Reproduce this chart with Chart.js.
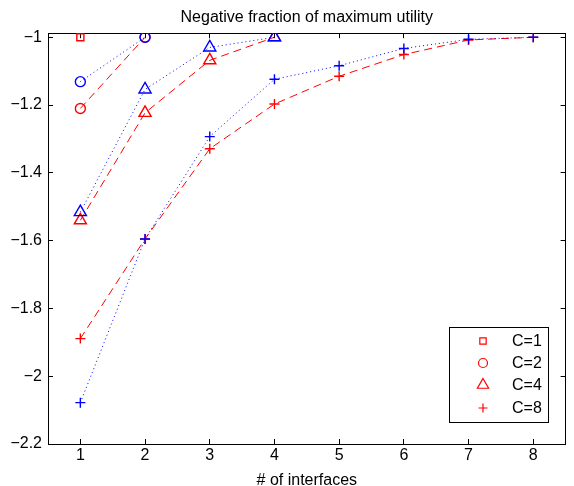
<!DOCTYPE html>
<html lang="en">
<head>
<meta charset="UTF-8">
<title>Negative fraction of maximum utility</title>
<style>
    html, body { margin: 0; padding: 0; background: #fff; }
    #wrap { width: 574px; height: 486px; }
</style>
</head>
<body>
<div id="wrap"><canvas id="chart" width="574" height="486"></canvas></div>
<script src="https://cdn.jsdelivr.net/npm/chart.js"></script>
<script>
    // values
    const xTicks = [1, 2, 3, 4, 5, 6, 7, 8];
    const yTicks = [-2.2, -2.0, -1.8, -1.6, -1.4, -1.2, -1.0];
    const legendLabels = ['C=1', 'C=2', 'C=4', 'C=8'];
    const markers = ['rect', 'circle', 'triangle', 'cross'];

    // red dashed series (one per C)
    const redC1 = [-1.0];
    const redC2 = [-1.21, -1.0];
    const redC4 = [-1.54, -1.223, -1.068, -1.0];
    const redC8 = [-1.889, -1.595, -1.329, -1.197, -1.115, -1.051, -1.008, -1.0];

    // blue dotted series
    const blueC2 = [-1.131, -1.0];
    const blueC4 = [-1.516, -1.154, -1.03, -1.0];
    const blueC8 = [-2.078, -1.595, -1.293, -1.124, -1.084, -1.033, -1.006, -1.0];

    const RED = '#ff0000';
    const BLUE = '#0000ff';
    const FONT = '"Liberation Sans", Arial, Helvetica, sans-serif';
    const radius = { rect: 5, circle: 5, triangle: 7, cross: 5 };
    const X_MIN = 0.5, X_MAX = 8.5, Y_MIN = -2.2, Y_MAX = -0.988;

    function toPoints(vals) {
        return vals.map((v, i) => ({ x: xTicks[i], y: v }));
    }

    function series(vals, color, marker, dash, order) {
        return {
            data: toPoints(vals),
            borderColor: color,
            borderWidth: 1,
            borderDash: dash,
            pointStyle: marker,
            pointRadius: radius[marker],
            pointBorderColor: color,
            pointBackgroundColor: 'rgba(0,0,0,0)',
            pointBorderWidth: 1.4,
            showLine: true,
            fill: false,
            tension: 0,
            order: order
        };
    }

    const redDash = [8, 5];
    const blueDot = [1, 3];

    const datasets = [
        series(redC1, RED, 'rect', redDash, 2),
        series(redC2, RED, 'circle', redDash, 2),
        series(redC4, RED, 'triangle', redDash, 2),
        series(redC8, RED, 'cross', redDash, 2),
        series(blueC2, BLUE, 'circle', blueDot, 1),
        series(blueC4, BLUE, 'triangle', blueDot, 1),
        series(blueC8, BLUE, 'cross', blueDot, 1)
    ];

    // matlab-like axis: black box line, short inward ticks
    function boxAxis(pos, min, max, tickVals, showLabels) {
        return {
            type: 'linear',
            position: pos,
            min: min,
            max: max,
            grid: {
                display: true,
                drawOnChartArea: false,
                drawTicks: true,
                tickLength: -5,
                color: '#000',
                lineWidth: 1
            },
            border: { display: true, color: '#000', width: 1 },
            afterBuildTicks: s => { s.ticks = tickVals.map(v => ({ value: v })); },
            ticks: { display: showLabels }
        };
    }

    const xAxis = boxAxis('bottom', X_MIN, X_MAX, xTicks, true);
    xAxis.afterFit = s => { s.height = 42; };
    xAxis.ticks = {
        color: '#000',
        padding: 7,
        font: { family: FONT, size: 16 },
        callback: v => String(v)
    };
    xAxis.title = {
        display: true,
        text: '# of interfaces',
        color: '#000',
        font: { family: FONT, size: 16, lineHeight: 1 },
        padding: { top: 0, bottom: -3 }
    };

    const yAxis = boxAxis('left', Y_MIN, Y_MAX, yTicks, true);
    yAxis.afterFit = s => { s.width = 48; };
    yAxis.ticks = {
        color: '#000',
        padding: 11,
        font: { family: FONT, size: 16 },
        callback: v => {
            const t = Math.abs(v).toFixed(1).replace(/\.0$/, '');
            return (v < 0 ? '\u2212' : '') + t;
        }
    };

    const xTop = boxAxis('top', X_MIN, X_MAX, xTicks, false);
    xTop.afterFit = s => { s.height = 0; };
    const yRight = boxAxis('right', Y_MIN, Y_MAX, yTicks, false);
    yRight.afterFit = s => { s.width = 0; };

    // legend box in the lower right of the axes
    const legendBox = {
        id: 'legendBox',
        afterDraw(chart) {
            const ctx = chart.ctx;
            const lx = 449, ly = 327, lw = 99, lh = 95;
            ctx.save();
            ctx.setLineDash([]);
            ctx.fillStyle = '#fff';
            ctx.fillRect(lx, ly, lw, lh);
            ctx.strokeStyle = '#000';
            ctx.lineWidth = 1;
            ctx.strokeRect(lx + 0.5, ly + 0.5, lw, lh);
            const rows = [341, 363, 385, 408];
            ctx.font = '16px ' + FONT;
            ctx.textBaseline = 'middle';
            legendLabels.forEach((lab, i) => {
                ctx.strokeStyle = RED;
                ctx.fillStyle = 'rgba(0,0,0,0)';
                ctx.lineWidth = 1.2;
                Chart.helpers.drawPoint(ctx, {
                    pointStyle: markers[i],
                    radius: radius[markers[i]] - 0.5,
                    borderWidth: 1.2
                }, 483, rows[i]);
                ctx.fillStyle = '#000';
                ctx.fillText(lab, 512, rows[i] + 1);
            });
            ctx.restore();
        }
    };

    new Chart(document.getElementById('chart'), {
        type: 'scatter',
        data: { datasets: datasets },
        plugins: [legendBox],
        options: {
            responsive: false,
            animation: false,
            events: [],
            layout: { padding: { left: 0, right: 6, top: 0, bottom: 0 } },
            plugins: {
                legend: { display: false },
                tooltip: { enabled: false },
                title: {
                    display: true,
                    fullSize: false,
                    text: 'Negative fraction of maximum utility',
                    color: '#000',
                    font: { family: FONT, size: 16, weight: 'normal' },
                    padding: { top: 8, bottom: 6 }
                }
            },
            scales: {
                x: xAxis,
                y: yAxis,
                x2: xTop,
                y2: yRight
            }
        }
    });
</script>
</body>
</html>
